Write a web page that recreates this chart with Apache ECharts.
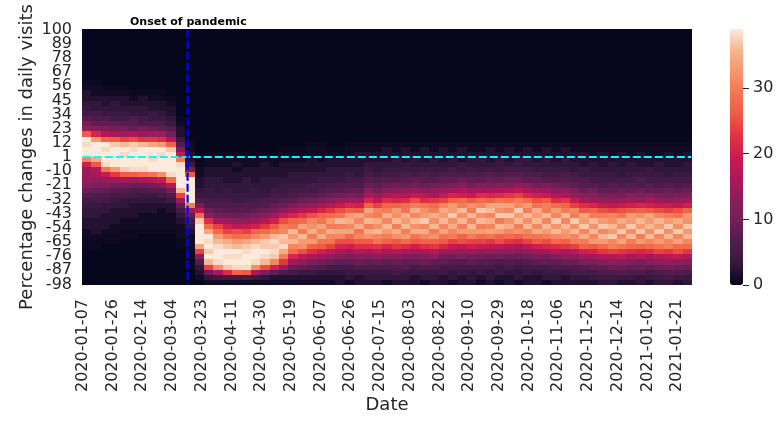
<!DOCTYPE html>
<html>
<head>
<meta charset="utf-8">
<style>
  html, body { margin: 0; padding: 0; background: #fff; }
  #chart { width: 777px; height: 429px; }
</style>
<script src="https://cdn.jsdelivr.net/npm/echarts@6/dist/echarts.min.js"></script>
</head>
<body>
<div id="chart"></div>
<script>
// Average counts per 6 day column, each listed from the -98 bin upward in 4 point bins.
// Bins above the end of a list get quietBinCount.
const countsJanMar = [
  [.2,.2,.2,.2,.2,.2,.2,.6,.6,1,1,2,2,3,3,4,5,7,9,12,14,15,14,20,31,39,39,38,39,26,14,10,7,5,4,3,2,2,1,.6],
  [.2,.2,.2,.2,.2,.2,.2,.6,.6,1,2,2,2,3,3,4,5,6,9,11,13,16,17,26,35,39,39,39,33,21,12,8,6,5,3,3,2,1,1,.6],
  [.2,.2,.2,.2,.2,.2,.2,.2,.6,.6,1,2,2,2,3,3,5,6,8,11,14,19,29,38,39,39,38,39,27,17,11,8,6,4,3,2,2,1,.6],
  [.2,.2,.2,.2,.2,.2,.2,.2,.6,.6,1,1,2,2,2,3,4,5,7,10,15,23,33,39,39,39,39,37,26,16,10,8,5,4,3,3,2,1,.6],
  [.2,.2,.2,.2,.2,.2,.2,.2,.2,.6,.6,1,1,2,2,3,3,5,7,10,16,26,37,39,39,38,39,36,24,15,10,7,5,4,3,2,2,1,.6],
  [.2,.2,.2,.2,.2,.2,.2,.2,.2,.6,.6,1,1,2,2,2,3,5,6,9,15,27,38,39,39,39,38,37,25,16,9,7,6,3,3,2,1,.6],
  [.2,.2,.2,.2,.2,.2,.2,.2,.2,.2,.6,1,1,1,2,2,3,4,6,9,16,28,38,39,39,39,39,36,23,14,10,6,5,3,3,2,2,.6],
  [.2,.2,.2,.2,.2,.2,.2,.2,.2,.2,.6,1,1,1,2,2,3,4,7,10,17,29,39,39,38,39,39,34,23,15,9,6,4,4,2,2,1,.6],
  [.2,.2,.2,.2,.2,.2,.2,.2,.2,.2,.6,1,1,1,1,2,3,5,7,11,19,32,39,39,39,38,39,33,22,14,8,6,4,3,2,2,1,.6],
  [.2,.2,.2,.2,.2,.2,.2,.2,.2,.2,.6,1,1,1,2,2,4,6,10,17,28,38,39,39,39,39,37,27,17,10,7,4,3,2,2,1,.6]
];
const countsDrop = [
  [.2,.2,.2,.2,.2,.2,.2,.6,.6,1,1,1,2,3,5,8,14,24,36,39,39,39,39,38,30,19,11,7,4,2,2,1,.6],
  [.2,.2,.2,.6,.6,1,1,1,1,1,2,3,5,8,15,30,39,39,39,39,39,26,10,4,2,2,1,1,.6],
  [.2,1,2,3,7,12,24,34,39,39,39,39,37,28,18,10,6,4,3,2,2,1,1,.6]
];
const countsSpring = [
  [1,3,10,24,36,39,37,39,38,39,34,28,22,12,9,6,5,4,4,3,3,2,2,1,1,.6],
  [1,4,16,32,38,39,39,38,36,33,28,24,15,10,8,6,5,4,3,3,3,2,2,1,1,.6],
  [1,5,22,37,39,38,39,37,35,30,24,20,14,10,7,6,5,4,4,3,2,2,2,1,1,.6],
  [1,5,27,38,39,38,39,36,33,28,25,18,13,9,7,6,4,4,3,3,2,2,1,2,1,.6],
  [1,5,26,38,39,39,38,37,34,29,24,19,13,10,7,6,5,4,3,3,3,2,2,1,1,.6],
  [1,4,16,32,38,39,39,38,36,31,27,20,15,11,8,6,5,4,4,3,2,2,2,1,1,.6],
  [1,3,11,25,36,38,39,37,37,33,28,23,17,12,9,7,6,4,3,3,3,2,2,2,1,.6],
  [1,2,8,20,31,37,38,37,38,36,30,26,20,15,10,8,6,5,4,3,3,2,2,1,1,.6],
  [1,2,6,15,23,30,35,38,36,37,31,30,25,19,13,9,7,5,4,4,3,2,2,2,1,1,.6],
  [1,2,5,9,15,21,28,31,36,33,36,29,27,21,15,11,8,6,5,4,3,3,2,2,1,1,.6],
  [1,2,4,8,13,18,25,32,33,36,30,34,28,23,17,12,9,7,5,4,3,3,2,2,1,1,.6],
  [1,2,4,7,11,16,22,27,33,30,35,32,31,25,18,13,10,7,5,5,3,3,2,2,2,1,1,.6],
  [1,2,3,6,10,15,20,26,29,35,31,34,29,27,21,15,11,8,6,5,4,3,2,2,1,1,1,.6],
  [1,2,3,5,9,13,18,24,29,31,35,30,33,28,23,17,12,9,7,5,4,3,3,2,2,1,.6]
];
const countsSummerFall = [
  [2,2,3,5,8,12,16,21,25,31,34,30,36,29,25,19,14,10,7,6,4,3,3,2,2,1,.6],
  [1,3,4,5,8,11,15,20,25,28,34,31,35,33,27,21,15,11,8,6,5,4,3,2,2,1,1,.6],
  [2,2,4,6,9,12,17,22,26,31,29,35,31,34,26,20,15,10,8,6,5,3,3,2,2,2,1,.6],
  [2,3,4,6,8,12,16,22,26,32,35,30,36,31,34,27,21,16,12,9,7,5,4,3,2,2,1,.6],
  [2,3,4,6,9,13,18,23,29,31,36,32,35,30,31,24,18,14,10,8,6,4,3,3,2,2,1,.6],
  [1,3,4,6,8,12,16,21,27,30,33,36,31,35,30,27,22,16,12,9,7,5,4,3,2,2,2,.6],
  [2,3,5,6,9,12,17,23,26,32,35,30,36,32,33,27,21,17,12,10,7,5,4,3,3,2,1,.6],
  [2,3,4,7,8,11,16,22,28,33,30,36,33,35,29,28,22,17,13,9,7,6,4,3,2,2,2,.6],
  [2,2,4,5,8,11,15,20,26,29,35,32,36,31,35,30,25,19,14,10,8,5,4,3,3,2,1,.6],
  [1,3,4,6,9,12,16,22,27,31,35,31,37,33,32,29,22,18,12,9,7,6,4,3,2,2,2,.6],
  [2,3,4,6,8,13,17,23,27,32,30,36,32,35,30,28,23,16,13,10,7,5,4,3,3,2,1,.6],
  [2,2,4,5,8,10,15,21,26,29,34,31,36,33,35,31,24,19,14,10,8,6,4,3,2,2,2,.6],
  [1,3,3,5,7,10,14,19,24,30,31,35,32,37,33,33,27,21,15,11,8,6,5,3,3,2,1,.6],
  [2,2,4,5,7,11,14,18,25,27,33,30,36,32,36,30,28,20,16,12,9,6,4,4,2,2,2,.6],
  [2,3,3,5,8,10,15,20,24,30,33,36,31,36,30,32,26,19,15,10,8,6,5,3,3,2,1,.6],
  [1,2,4,5,7,10,13,19,24,28,33,30,36,32,37,31,28,22,15,12,8,6,4,3,3,2,1,.6],
  [2,3,3,5,7,9,14,18,23,29,34,31,35,31,36,34,27,21,16,11,9,7,5,3,2,2,2,.6],
  [1,2,4,4,6,10,13,18,25,27,33,36,30,37,32,34,29,22,16,12,8,6,4,4,3,2,1,.6],
  [2,2,3,5,7,9,13,17,23,28,31,35,32,37,31,34,28,23,17,11,9,7,5,3,2,2,2,.6],
  [1,3,3,4,6,9,12,16,22,27,32,30,36,33,37,31,30,24,18,13,9,7,5,4,3,2,1,.6],
  [2,2,4,5,7,10,13,18,24,29,31,36,32,36,30,33,28,21,16,12,8,6,5,3,3,2,2,.6]
];
const countsWinter = [
  [2,2,3,5,8,11,15,20,26,29,35,31,36,33,35,29,25,20,14,10,8,6,4,3,2,2,1,.6],
  [1,3,4,5,8,10,15,21,25,30,33,36,31,36,30,30,26,19,14,11,7,5,4,3,3,2,2,.6],
  [2,3,4,6,8,12,17,22,28,31,36,32,37,31,33,28,22,17,12,10,7,5,4,3,2,2,1,.6],
  [2,2,4,6,9,13,16,23,27,32,33,36,31,36,30,27,23,16,13,9,7,6,4,3,3,2,2,.6],
  [2,3,5,6,9,13,18,24,30,31,36,32,37,30,31,24,19,14,11,8,6,5,3,3,2,2,1,.6],
  [2,3,5,7,11,15,20,27,30,35,31,37,33,34,26,22,16,12,9,7,6,4,4,2,2,2,1,.6],
  [2,4,5,8,11,15,21,26,33,31,36,32,36,30,27,21,15,12,10,7,5,4,3,3,2,1,1,.6],
  [3,4,6,8,12,17,23,28,33,36,31,37,33,30,25,19,14,10,8,6,5,4,3,2,2,2,1,.6],
  [3,4,6,9,13,17,24,30,31,37,33,36,32,31,24,18,13,11,8,7,5,4,3,3,2,1,1,.6],
  [2,4,7,9,12,18,23,29,34,31,37,32,35,29,25,19,14,10,9,6,5,3,3,2,2,2,1,.6],
  [2,4,6,8,12,16,22,28,30,36,32,37,33,33,26,20,15,12,8,7,5,4,3,3,2,1,1,.6],
  [3,3,6,9,11,17,21,27,33,30,37,33,36,32,27,21,14,11,9,6,6,4,3,2,2,2,1,.6],
  [2,4,5,8,12,15,22,28,31,36,32,36,33,34,26,20,16,12,8,7,5,4,4,2,2,1,1,.6],
  [3,4,6,9,13,17,24,29,33,31,37,33,36,31,25,19,14,11,8,6,5,4,3,3,2,1,1,.6],
  [3,5,7,10,14,18,23,30,31,36,32,37,33,30,24,19,13,10,9,7,5,3,3,2,2,2,1,.6],
  [2,4,7,9,13,19,25,28,34,31,37,32,35,29,25,18,14,11,8,6,5,4,3,2,2,1,1,.6],
  [3,4,6,9,12,17,23,28,31,36,33,37,32,33,27,20,15,11,9,7,5,4,3,3,2,2,1,.6]
];

const quietBinCount = 0.2;      // The faint specks in the empty top of the picture
const onsetDate = "2020-03-14"; // Where the blue line sits
const baselineLabel = "1";      // Where the cyan line sits
const colorbarMax = 39;
const colorbarTicks = [0, 10, 20, 30];
const rocket = ["#03051A", "#35193E", "#511C4C", "#701F57", "#8E1D5B", "#AD1759", "#CB1B4F",
                "#E13342", "#EE5A45", "#F37651", "#F5966D", "#F6B48F", "#FAEBDD"];

const counts = [...countsJanMar, ...countsDrop, ...countsSpring, ...countsSummerFall, ...countsWinter];
const numBins = 50;

// The visible axes are daily and per point, the heat cells sit on coarser hidden axes
let dayLabels = [];
for(let i = 0; i < 390; i ++) {
    dayLabels.push(new Date(Date.UTC(2020, 0, 7 + i)).toISOString().slice(0, 10));
}
let percentLabels = [];
for(let p = -98; p <= 100; p ++) {
    percentLabels.push(String(p));
}
const columnIds = counts.map((_, index) => index);
let binIds = [];
for(let i = 0; i < numBins; i ++) {
    binIds.push(i);
}

let cells = [];
counts.forEach((column, c) => {
    binIds.forEach(b => cells.push([c, b, b < column.length ? column[b] : quietBinCount]));
});

/*
  Draws one cell from the hidden axes. The edges are rounded to whole pixels,
  otherwise the anti-aliasing leaves pale seams between the cells.
*/
function renderCell(params, api) {
    const center = api.coord([api.value(0), api.value(1)]);
    const size = api.size([1, 1]);
    const x0 = Math.round(center[0] - size[0] / 2);
    const x1 = Math.round(center[0] + size[0] / 2);
    const y0 = Math.round(center[1] - size[1] / 2);
    const y1 = Math.round(center[1] + size[1] / 2);
    return {
        type: "rect",
        shape: { x: x0, y: y0, width: x1 - x0, height: y1 - y0 },
        style: { fill: api.visual("color") }
    };
}

const fontName = "DejaVu Sans";
const textColor = "#262626";
const tickFont = { fontFamily: fontName, fontSize: 16, color: textColor };

const chart = echarts.init(document.getElementById("chart"), null, { renderer: "canvas" });
chart.setOption({
    animation: false,
    backgroundColor: "#ffffff",
    title: {
        text: "Onset of pandemic",
        left: 130,
        top: 17,
        padding: 0,
        textStyle: { fontFamily: fontName, fontSize: 11, fontWeight: "bold", color: "#000000" }
    },
    grid: [
        { left: 82, top: 29, width: 610, height: 256 },
        { left: 730, top: 29, width: 13, height: 256 }
    ],
    xAxis: [
        {
            type: "category", gridIndex: 0, data: dayLabels, boundaryGap: true,
            name: "Date", nameLocation: "middle", nameGap: 111, nameMoveOverlap: false,
            nameTextStyle: { fontFamily: fontName, fontSize: 18, color: textColor },
            axisLine: { show: false }, axisTick: { show: false },
            axisLabel: { interval: 18, rotate: 90, margin: 14, ...tickFont }
        },
        { type: "category", gridIndex: 0, data: columnIds, show: false },
        { type: "value", gridIndex: 1, show: false, min: 0, max: 1 }
    ],
    yAxis: [
        {
            type: "category", gridIndex: 0, position: "left", data: percentLabels, boundaryGap: true,
            name: "Percentage changes in daily visits", nameLocation: "middle", nameGap: 46, nameMoveOverlap: false,
            nameTextStyle: { fontFamily: fontName, fontSize: 18, color: textColor },
            axisLine: { show: false }, axisTick: { show: false },
            axisLabel: { interval: 10, margin: 10, showMinLabel: false, showMaxLabel: false, ...tickFont }
        },
        { type: "category", gridIndex: 0, data: binIds, show: false },
        {
            type: "value", gridIndex: 1, position: "right", min: 0, max: colorbarMax,
            splitLine: { show: false },
            axisLine: { show: false, onZero: false },
            axisTick: { show: true, length: 6, customValues: colorbarTicks, lineStyle: { color: textColor, width: 1 } },
            axisLabel: { margin: 10, customValues: colorbarTicks, ...tickFont }
        },
        // Only -98 and 100, the first axis would drop their neighbours as overlapping
        {
            type: "category", gridIndex: 0, position: "left", data: percentLabels, boundaryGap: true,
            axisLine: { show: false }, axisTick: { show: false },
            axisLabel: { interval: 197, margin: 10, showMinLabel: true, showMaxLabel: true, ...tickFont }
        }
    ],
    visualMap: {
        type: "continuous", seriesIndex: 0, dimension: 2, min: 0, max: colorbarMax,
        calculable: false, hoverLink: false,
        left: 730, top: 29, itemWidth: 13, itemHeight: 256, padding: 0,
        inRange: { color: rocket }
    },
    series: [
        {
            type: "custom", xAxisIndex: 1, yAxisIndex: 1, data: cells,
            encode: { x: 0, y: 1 }, renderItem: renderCell, silent: true
        },
        {
            type: "line", xAxisIndex: 0, yAxisIndex: 0, symbol: "none", silent: true, z: 5,
            data: [[dayLabels[0], baselineLabel], [dayLabels[dayLabels.length - 1], baselineLabel]],
            lineStyle: { color: "#00FFFF", width: 2.2, type: [8, 3] }
        },
        {
            type: "line", xAxisIndex: 0, yAxisIndex: 0, symbol: "none", silent: true, z: 6,
            data: [[onsetDate, percentLabels[percentLabels.length - 1]], [onsetDate, percentLabels[0]]],
            lineStyle: { color: "#0000FF", width: 2.2, type: [8, 3] }
        }
    ]
});
</script>
</body>
</html>
